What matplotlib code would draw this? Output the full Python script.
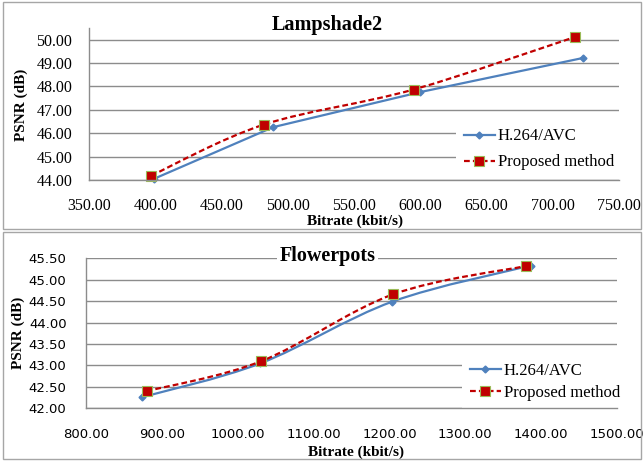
import numpy as np
import matplotlib.pyplot as plt
from matplotlib.path import Path
from matplotlib.patches import PathPatch, Rectangle
from matplotlib.lines import Line2D

# Lampshade2
lamp_h264_x = [399, 489, 600, 723]
lamp_h264_y = [44.05, 46.26, 47.76, 49.22]
lamp_prop_x = [397, 482, 595, 717]
lamp_prop_y = [44.19, 46.37, 47.87, 50.12]

# Flowerpots
flow_h264_x = [874, 1030, 1204, 1386]
flow_h264_y = [42.26, 43.05, 44.49, 45.33]
flow_prop_x = [880, 1031, 1205, 1380]
flow_prop_y = [42.40, 43.10, 44.66, 45.32]

series_labels = ["H.264/AVC", "Proposed method"]

BLUE = "#4F81BD"
RED = "#C00000"
GRID = "#8C8C8C"
SERIF = "Liberation Serif"
W, H = 644, 461


def smooth_path(x, y):
    # Excel-style smoothed line: Catmull-Rom turned into cubic Bezier segments
    p = np.column_stack([x, y]).astype(float)
    ext = np.vstack([p[0], p, p[-1]])
    verts = [p[0]]
    codes = [Path.MOVETO]
    for i in range(len(p) - 1):
        p0, p1, p2, p3 = ext[i], ext[i + 1], ext[i + 2], ext[i + 3]
        verts += [p1 + (p2 - p0) / 6, p2 - (p3 - p1) / 6, p2]
        codes += [Path.CURVE4] * 3
    return Path(verts, codes)


def fig_rect(l, t, r, b):
    return [l / W, 1 - b / H, (r - l) / W, (b - t) / H]


def draw_line(ax, x, y, smooth, **kw):
    if smooth:
        ax.add_patch(PathPatch(smooth_path(x, y), fill=False, zorder=3,
                               capstyle="butt", **kw))
    else:
        ax.plot(x, y, zorder=3, **kw)


def setup_axes(ax, xlim, xticks, ylim, yticks, tick_font, tick_size, xpad, ypad):
    ax.set_xlim(*xlim)
    ax.set_ylim(*ylim)
    ax.set_xticks(xticks)
    ax.set_yticks(yticks)
    ax.set_xticklabels([f"{v:.2f}" for v in xticks])
    ax.set_yticklabels([f"{v:.2f}" for v in yticks])
    for lab in ax.get_xticklabels() + ax.get_yticklabels():
        lab.set_fontfamily(tick_font)
        lab.set_fontsize(tick_size)
    ax.tick_params(axis="x", length=0, pad=xpad)
    ax.tick_params(axis="y", length=0, pad=ypad)
    ax.grid(axis="y", color=GRID, lw=1.0)
    ax.set_axisbelow(True)
    for s in ["top", "right"]:
        ax.spines[s].set_visible(False)
    for s in ["left", "bottom"]:
        ax.spines[s].set_color(GRID)
        ax.spines[s].set_linewidth(1.0)
        ax.spines[s].set_zorder(10)
    ax.set_facecolor("none")


def add_legend(ax, anchor, spacing):
    leg = ax.legend(handles, series_labels, loc="upper left", bbox_to_anchor=anchor,
                    prop={"family": SERIF, "size": 12}, frameon=True,
                    fancybox=False, borderpad=0.45, handlelength=1.9,
                    handletextpad=0.15, labelspacing=spacing, borderaxespad=0)
    leg.get_frame().set_edgecolor("none")
    leg.get_frame().set_facecolor("white")
    leg.get_frame().set_alpha(1)
    leg.set_zorder(5)
    return leg


fig = plt.figure(figsize=(6.44, 4.61), dpi=100)

# panel borders
for t, b in [(2, 229), (232, 459)]:
    fig.add_artist(Rectangle((2.5 / W, 1 - b / H), (638.5) / W, (b - t) / H,
                             transform=fig.transFigure, fill=False,
                             edgecolor="#A6A6A6", lw=1.0))

handles = [
    Line2D([], [], color=BLUE, lw=1.6, marker="D", markersize=3.5,
           markerfacecolor=BLUE, markeredgecolor=BLUE),
    Line2D([], [], color=RED, lw=1.6, linestyle=(0, (2.6, 1.4)), marker="s",
           markersize=6.5, markerfacecolor=RED, markeredgecolor="#9BBB59",
           markeredgewidth=0.8),
]

# ---- top: Lampshade2
ax1 = fig.add_axes(fig_rect(89, 28, 619, 180))
setup_axes(ax1, (350, 750), np.arange(350, 751, 50), (44, 50.5),
           np.arange(44, 50.01, 1), SERIF, 11.5, 13, 12)
draw_line(ax1, lamp_h264_x, lamp_h264_y, False, color=BLUE, lw=1.6)
draw_line(ax1, lamp_prop_x, lamp_prop_y, True, color=RED, lw=1.6,
          linestyle=(0, (2.6, 1.4)))
ax1.plot(lamp_h264_x, lamp_h264_y, "D", ms=3.5, color=BLUE, zorder=4, clip_on=False)
ax1.plot(lamp_prop_x, lamp_prop_y, "s", ms=6.5, mfc=RED, mec="#9BBB59", mew=0.8,
         zorder=4, clip_on=False)
ax1.set_xlabel("Bitrate (kbit/s)", fontfamily=SERIF, fontsize=11, fontweight="bold")
ax1.set_ylabel("PSNR (dB)", fontfamily=SERIF, fontsize=11, fontweight="bold")
ax1.xaxis.set_label_coords(0.502, -0.27)
ax1.xaxis.label.set_va("center")
ax1.yaxis.set_label_coords(-0.128, 0.497)
ax1.yaxis.label.set_va("center")
add_legend(ax1, ((456 - 89) / 530, (180 - 121) / 152), 0.6)
fig.text(327.5 / W, 1 - 25 / H, "Lampshade2", ha="center", va="center",
         fontfamily=SERIF, fontsize=14.5, fontweight="bold")

# ---- bottom: Flowerpots
ax2 = fig.add_axes(fig_rect(86, 258.3, 617, 408.3))
setup_axes(ax2, (800, 1500), np.arange(800, 1501, 100), (42, 45.5),
           np.arange(42, 45.51, 0.5), "DejaVu Sans", 9.5, 14, 14)
draw_line(ax2, flow_h264_x, flow_h264_y, True, color=BLUE, lw=1.6)
draw_line(ax2, flow_prop_x, flow_prop_y, True, color=RED, lw=1.6,
          linestyle=(0, (2.6, 1.4)))
ax2.plot(flow_h264_x, flow_h264_y, "D", ms=3.5, color=BLUE, zorder=4, clip_on=False)
ax2.plot(flow_prop_x, flow_prop_y, "s", ms=6.5, mfc=RED, mec="#9BBB59", mew=0.8,
         zorder=4, clip_on=False)
ax2.set_xlabel("Bitrate (kbit/s)", fontfamily=SERIF, fontsize=11, fontweight="bold")
ax2.set_ylabel("PSNR (dB)", fontfamily=SERIF, fontsize=11, fontweight="bold")
ax2.xaxis.set_label_coords(0.508, -0.291)
ax2.xaxis.label.set_va("center")
ax2.yaxis.set_label_coords(-0.127, 0.502)
ax2.yaxis.label.set_va("center")
add_legend(ax2, ((462 - 86) / 531, (408.3 - 355) / 150), 0.4)
fig.text(327.5 / W, 1 - 256 / H, "Flowerpots", ha="center", va="center",
         fontfamily=SERIF, fontsize=14.5, fontweight="bold",
         bbox=dict(facecolor="white", edgecolor="none", pad=2))

fig.savefig("out.png", dpi=100)
